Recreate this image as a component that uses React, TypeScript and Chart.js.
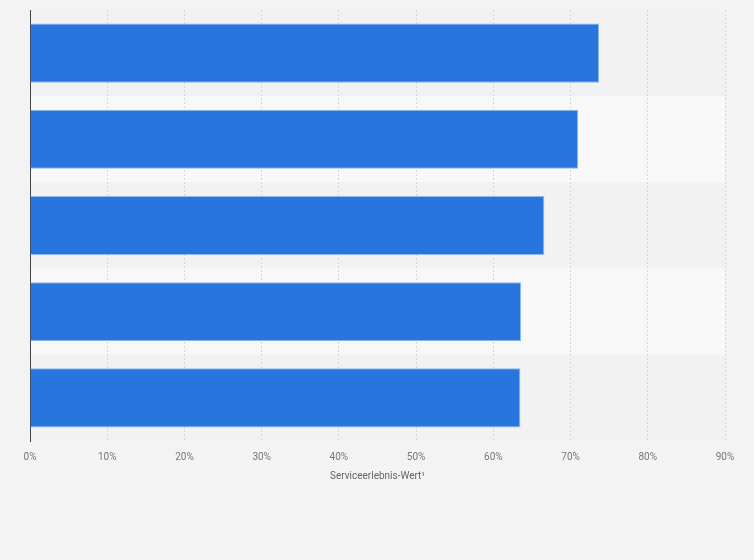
import React, { useEffect, useRef } from 'react';
import { Chart, registerables } from 'chart.js';
import type { ChartConfiguration, Plugin } from 'chart.js';

Chart.register(...registerables);

// ranks only - the reference shows no category names
const categories = ['1', '2', '3', '4', '5'];
const serviceValues = [73.7, 71.0, 66.6, 63.6, 63.5];
const xTicks = [0, 10, 20, 30, 40, 50, 60, 70, 80, 90];
const axisTitle = 'Serviceerlebnis-Wert¹';

// alternating row bands behind the bars
const bandPlugin: Plugin<'bar'> = {
  id: 'bands',
  beforeDraw(chart) {
    const { ctx, chartArea, scales } = chart;
    const y = scales.y;
    ctx.save();
    ctx.fillStyle = '#f3f3f3';
    ctx.fillRect(0, 0, chart.width, chart.height);
    const step = categories.length > 1 ? y.getPixelForValue(1) - y.getPixelForValue(0) : chartArea.height;
    categories.forEach((_, i) => {
      const c = y.getPixelForValue(i);
      ctx.fillStyle = i % 2 === 1 ? '#f8f8f8' : '#f2f2f2';
      ctx.fillRect(chartArea.left, c - step / 2, chartArea.right - chartArea.left, step);
    });
    ctx.restore();
  },
};

const App: React.FC = () => {
  const canvasRef = useRef<HTMLCanvasElement | null>(null);

  useEffect(() => {
    document.body.style.margin = '0';
    const canvas = canvasRef.current;
    if (!canvas) return;
    const ctx = canvas.getContext('2d');
    if (!ctx) return;

    const config: ChartConfiguration<'bar', number[], string> = {
      type: 'bar',
      data: {
        labels: categories,
        datasets: [
          {
            data: serviceValues,
            backgroundColor: '#2876dd',
            borderColor: 'rgba(120,170,235,0.8)',
            borderWidth: 1,
            borderSkipped: 'left',
            barPercentage: 0.686,
            categoryPercentage: 1,
          },
        ],
      },
      options: {
        indexAxis: 'y',
        responsive: false,
        animation: false,
        layout: { padding: { left: 30, right: 29, top: 10, bottom: 78 } },
        plugins: {
          legend: { display: false },
          tooltip: { enabled: false },
        },
        scales: {
          x: {
            min: 0,
            max: 90,
            afterBuildTicks: (scale) => {
              scale.ticks = xTicks.map((v) => ({ value: v }));
            },
            ticks: {
              callback: (v) => `${v}%`,
              color: '#777',
              font: { family: 'Roboto', size: 10 },
              padding: 10,
              maxRotation: 0,
            },
            grid: { color: '#d6d6d6', drawTicks: false, lineWidth: 1 },
            border: { display: false, dash: [2, 2] },
            title: {
              display: true,
              text: axisTitle,
              color: '#666',
              font: { family: 'Roboto', size: 10 },
              padding: { top: -3, bottom: 0 },
            },
          },
          y: {
            ticks: { display: false },
            grid: { display: false },
            border: { display: true, color: '#444', width: 1 },
            afterFit: (scale) => {
              scale.width = 0;
            },
          },
        },
      },
      plugins: [bandPlugin],
    };

    const chart = new Chart(ctx, config);
    return () => chart.destroy();
  }, []);

  return (
    <div style={{ position: 'fixed', left: 0, top: 0, width: 754, height: 560, background: '#f3f3f3' }}>
      <canvas ref={canvasRef} width={754} height={560} />
    </div>
  );
};

export default App;
